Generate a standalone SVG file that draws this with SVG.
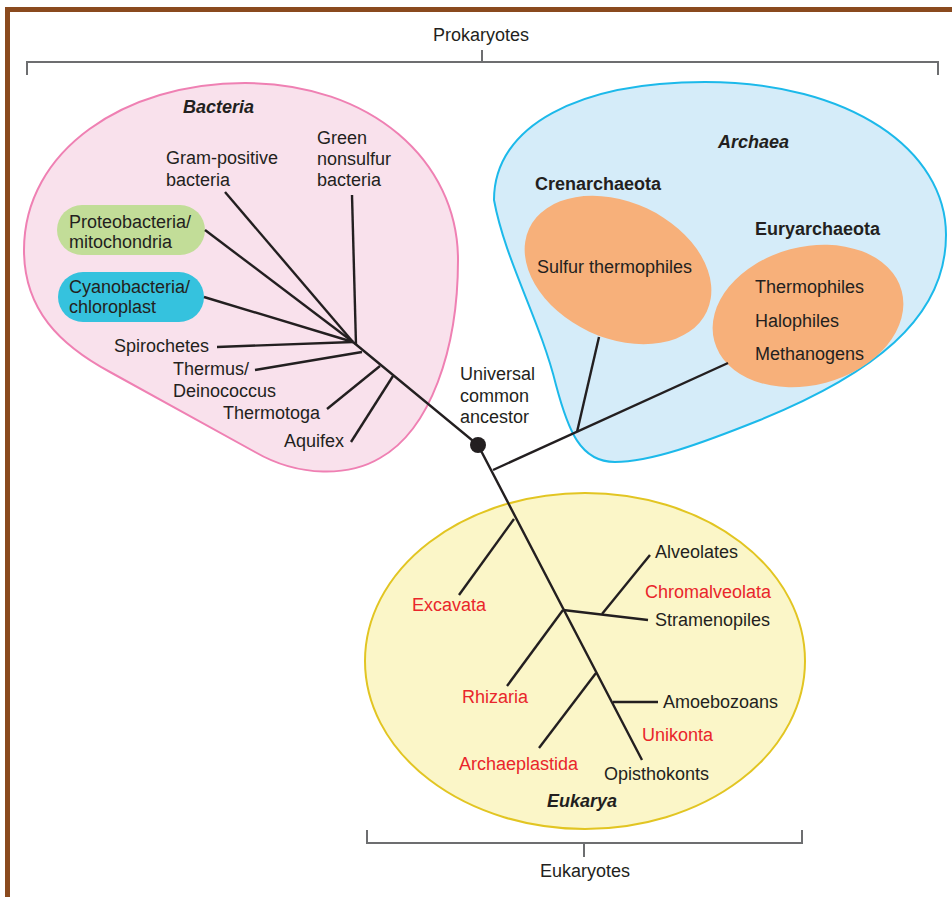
<svg xmlns="http://www.w3.org/2000/svg" width="952" height="897" viewBox="0 0 952 897">
<style>
text{font-family:"Liberation Sans",Arial,sans-serif;font-size:18px;fill:#231f20}
.b{font-weight:bold}
.bi{font-weight:bold;font-style:italic}
.r{fill:#e9262b}
.m{text-anchor:middle}
.ln{stroke:#231f20;stroke-width:2.4;fill:none;stroke-linecap:butt}
.br{stroke:#6d6e70;stroke-width:2;fill:none}
</style>
<rect x="0" y="0" width="952" height="897" fill="#ffffff"/>
<g id="frame" fill="#8a4a1e">
<rect x="5" y="7" width="947" height="5"/>
<rect x="5" y="7" width="5" height="890"/>
</g>
<g id="prokaryotes">
<path class="br" d="M27 75V62H938V75M482 62V50"/>
<text class="m" x="481" y="41">Prokaryotes</text>
</g>
<g id="bacteria">
<path d="M24 250C24 150 125 83 245 83C370 83 458 160 458 260C458 350 430 430 380 458C350 476 300 478 255 452L110 372C60 345 24 310 24 250Z" fill="#f9e1ec" stroke="#ef80b3" stroke-width="2"/>
<text class="bi" x="183" y="113">Bacteria</text>
</g>
<g id="archaea">
<path d="M494 200C494 125 580 82 705 82C850 82 946 150 946 235C946 320 870 375 760 420C700 444 650 462 615 462C580 462 568 430 556 385C540 320 505 260 494 200Z" fill="#d5ecf9" stroke="#1cb9ea" stroke-width="2"/>
<text class="bi" x="718" y="148">Archaea</text>
</g>
<g id="eukarya">
<ellipse cx="585" cy="661" rx="220" ry="168" fill="#fbf6c8" stroke="#e2c522" stroke-width="2"/>
<text class="bi" x="547" y="807">Eukarya</text>
</g>
<g id="crenarchaeota">
<text class="b" x="535" y="190">Crenarchaeota</text>
<ellipse cx="618" cy="270" rx="98" ry="68" transform="rotate(25 618 270)" fill="#f7b07a"/>
<text x="537" y="273">Sulfur thermophiles</text>
</g>
<g id="euryarchaeota">
<text class="b" x="755" y="235">Euryarchaeota</text>
<ellipse cx="808" cy="316" rx="97" ry="69" transform="rotate(-15 808 316)" fill="#f7b07a"/>
<text x="755" y="293">Thermophiles</text>
<text x="755" y="327">Halophiles</text>
<text x="755" y="360">Methanogens</text>
</g>
<g id="proteobacteria">
<rect x="57" y="205" width="148" height="50" rx="25" fill="#c2dd98"/>
<text x="69" y="228">Proteobacteria/</text>
<text x="69" y="248">mitochondria</text>
</g>
<g id="cyanobacteria">
<rect x="58" y="272" width="146" height="50" rx="25" fill="#35c2de"/>
<text x="69" y="293">Cyanobacteria/</text>
<text x="69" y="313">chloroplast</text>
</g>
<g id="gram-positive"><text x="166" y="164">Gram-positive</text><text x="166" y="186">bacteria</text></g>
<g id="green-nonsulfur"><text x="317" y="144">Green</text><text x="317" y="165">nonsulfur</text><text x="317" y="186">bacteria</text></g>
<g id="spirochetes"><text x="114" y="352">Spirochetes</text></g>
<g id="thermus"><text x="173" y="375">Thermus/</text><text x="173" y="397">Deinococcus</text></g>
<g id="thermotoga"><text x="223" y="419">Thermotoga</text></g>
<g id="aquifex"><text x="284" y="447">Aquifex</text></g>
<g id="ancestor">
<text x="460" y="380">Universal</text><text x="460" y="402">common</text><text x="460" y="423">ancestor</text>
<circle cx="478" cy="445" r="8" fill="#231f20"/>
</g>
<g id="excavata"><text class="r" x="412" y="611">Excavata</text></g>
<g id="alveolates"><text x="655" y="558">Alveolates</text></g>
<g id="chromalveolata"><text class="r" x="645" y="598">Chromalveolata</text></g>
<g id="stramenopiles"><text x="655" y="626">Stramenopiles</text></g>
<g id="rhizaria"><text class="r" x="462" y="703">Rhizaria</text></g>
<g id="amoebozoans"><text x="663" y="708">Amoebozoans</text></g>
<g id="unikonta"><text class="r" x="642" y="741">Unikonta</text></g>
<g id="archaeplastida"><text class="r" x="459" y="770">Archaeplastida</text></g>
<g id="opisthokonts"><text x="604" y="780">Opisthokonts</text></g>
<g id="eukaryotes">
<path class="br" d="M367 830V843H802V830M584 843V857"/>
<text class="m" x="585" y="877">Eukaryotes</text>
</g>
<g id="connectors" class="ln">
<path d="M353 342L478 445L642 760"/>
<path d="M352 195L356 345"/>
<path d="M225 192L353 342"/>
<path d="M205 230L353 342"/>
<path d="M204 297L353 342"/>
<path d="M217 347L353 342"/>
<path d="M255 370L362 352"/>
<path d="M327 409L380 366"/>
<path d="M351 442L393 376"/>
<path d="M493 470L728 363"/>
<path d="M577 432L599 337"/>
<path d="M514 519L459 595"/>
<path d="M563 610L648 620"/>
<path d="M602 614L650 555"/>
<path d="M563 610L507 686"/>
<path d="M596 673L539 748"/>
<path d="M613 702L658 702"/>
</g>
</svg>
